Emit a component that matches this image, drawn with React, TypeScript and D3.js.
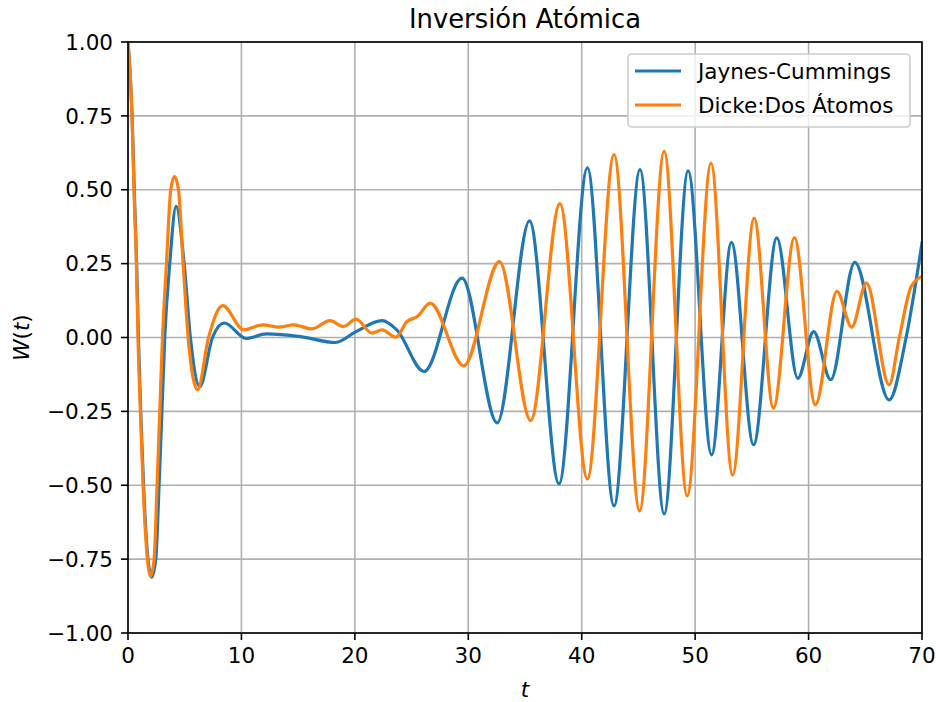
import * as d3 from 'd3';

// --- data ---
const tJC = [0, 0.36, 0.55, 0.76, 0.92, 1.12, 1.37, 1.76, 2.09, 2.45, 2.74, 2.99, 3.24, 3.68, 4.24, 4.95, 5.5, 6.33, 7.45, 8.5,
  10.4, 12.2, 15.2, 18.3, 20.1, 22.4, 23.7, 26.1, 29.45, 32.55, 35.4, 38.0, 40.5, 42.85, 45.14, 47.27, 49.38,
  51.45, 53.2, 55.15, 57.2, 59.05, 60.45, 61.95, 64.07, 67.1, 68.6, 70];
const wJC = [1.0, 0.75, 0.5, 0.25, 0.0, -0.25, -0.5, -0.75, -0.811, -0.75, -0.5, -0.25, 0.0, 0.25, 0.444, 0.25, 0.0, -0.166, 0.0, 0.049,
  -0.003, 0.012, 0.003, -0.017, 0.02, 0.057, 0.026, -0.115, 0.201, -0.289, 0.395, -0.495, 0.574, -0.57, 0.568, -0.597, 0.564,
  -0.397, 0.322, -0.363, 0.337, -0.138, 0.02, -0.143, 0.254, -0.211, 0.0, 0.32];

const tDicke = [0, 0.35, 0.53, 0.74, 0.88, 1.09, 1.33, 1.71, 1.98, 2.3, 2.56, 2.8, 3.04, 3.39, 3.77, 4.1, 4.45, 4.86, 5.3, 6.13, 7.1, 8.35,
  10.2, 11.9, 13.3, 14.6, 16.2, 17.8, 19.0, 20.1, 21.5, 22.4, 23.6, 24.6, 25.5, 26.65, 29.6, 32.75, 35.5, 38.08, 40.5,
  42.85, 45.1, 47.27, 49.3, 51.4, 53.3, 55.2, 56.9, 58.75, 60.6, 62.5, 63.8, 65.1, 67.1, 68.0, 69.05, 70];
const wDicke = [1.0, 0.75, 0.5, 0.25, 0.0, -0.25, -0.5, -0.75, -0.809, -0.75, -0.5, -0.25, 0.0, 0.25, 0.5, 0.545, 0.5, 0.25, 0.0, -0.177, 0.0, 0.108,
  0.026, 0.043, 0.035, 0.043, 0.029, 0.057, 0.037, 0.062, 0.015, 0.026, 0.001, 0.054, 0.071, 0.116, -0.096, 0.257, -0.281, 0.453, -0.479,
  0.619, -0.587, 0.63, -0.536, 0.59, -0.465, 0.404, -0.239, 0.337, -0.228, 0.156, 0.035, 0.184, -0.16, 0.0, 0.173, 0.207];

const xTicks = [0, 10, 20, 30, 40, 50, 60, 70];
const yTicks = [-1, -0.75, -0.5, -0.25, 0, 0.25, 0.5, 0.75, 1];
const seriesNames = ['Jaynes-Cummings', 'Dicke:Dos Átomos'];
const seriesColors = ['#1f77b4', '#ff7f0e'];

const W = 936, H = 702;
const margin = { left: 128, right: 14, top: 42, bottom: 69 };
const FONT = 'DejaVu Sans, sans-serif';

export default function App() {
  const x = d3.scaleLinear().domain([0, 70]).range([margin.left, W - margin.right]);
  const y = d3.scaleLinear().domain([-1, 1]).range([H - margin.bottom, margin.top]);

  const line = d3.line<[number, number]>()
    .x(d => x(d[0]))
    .y(d => y(d[1]))
    .curve(d3.curveMonotoneX);

  const series = [
    d3.zip(tJC, wJC) as [number, number][],
    d3.zip(tDicke, wDicke) as [number, number][],
  ];

  const [x0, x1] = x.range();
  const [y0, y1] = y.range();
  const tickLen = 7;

  return (
    <svg width={W} height={H} style={{ position: 'absolute', left: 0, top: 0, background: '#fff' }}
      fontFamily={FONT}>
      <defs>
        <clipPath id="plot">
          <rect x={x0} y={y1} width={x1 - x0} height={y0 - y1} />
        </clipPath>
      </defs>

      {/* grid */}
      <g stroke="#b0b0b0" strokeWidth={1.6}>
        {xTicks.map(t => <line key={'gx' + t} x1={x(t)} x2={x(t)} y1={y0} y2={y1} />)}
        {yTicks.map(t => <line key={'gy' + t} x1={x0} x2={x1} y1={y(t)} y2={y(t)} />)}
      </g>

      {/* lines */}
      <g clipPath="url(#plot)" fill="none" strokeWidth={3.2} strokeLinejoin="round" strokeLinecap="square">
        {series.map((s, i) => <path key={i} d={line(s) || ''} stroke={seriesColors[i]} />)}
      </g>

      {/* spines */}
      <rect x={x0} y={y1} width={x1 - x0} height={y0 - y1} fill="none" stroke="#000" strokeWidth={1.6} />

      {/* x ticks */}
      <g fontSize={21.5} fill="#000" textAnchor="middle">
        {xTicks.map(t => (
          <g key={'xt' + t}>
            <line x1={x(t)} x2={x(t)} y1={y0} y2={y0 + tickLen} stroke="#000" strokeWidth={1.6} />
            <text x={x(t)} y={y0 + tickLen * 2 + 16}>{t}</text>
          </g>
        ))}
      </g>

      {/* y ticks */}
      <g fontSize={21.5} fill="#000" textAnchor="end">
        {yTicks.map(t => (
          <g key={'yt' + t}>
            <line x1={x0 - tickLen} x2={x0} y1={y(t)} y2={y(t)} stroke="#000" strokeWidth={1.6} />
            <text x={x0 - tickLen * 2 - 1} y={y(t)} dy="0.36em">{d3.format('.2f')(t).replace('-', '\u2212')}</text>
          </g>
        ))}
      </g>

      {/* labels */}
      <text x={(x0 + x1) / 2} y={28} fontSize={25.8} textAnchor="middle">Inversión Atómica</text>
      <text x={(x0 + x1) / 2} y={697} fontSize={21.5} textAnchor="middle" fontStyle="italic">t</text>
      <text transform={`translate(29,${(y0 + y1) / 2}) rotate(-90)`} fontSize={21.5} textAnchor="middle">
        <tspan fontStyle="italic">W</tspan>(<tspan fontStyle="italic">t</tspan>)
      </text>

      {/* legend */}
      <g>
        <rect x={628} y={54} width={282} height={73} rx={4} fill="#fff" fillOpacity={0.8}
          stroke="#cccccc" strokeWidth={1.6} />
        {seriesNames.map((n, i) => (
          <g key={n} transform={`translate(0,${71 + i * 34})`}>
            <line x1={635} x2={681} y1={0} y2={0} stroke={seriesColors[i]} strokeWidth={3.2} />
            <text x={698} y={0} dy="0.36em" fontSize={21.5}>{n}</text>
          </g>
        ))}
      </g>
    </svg>
  );
}
